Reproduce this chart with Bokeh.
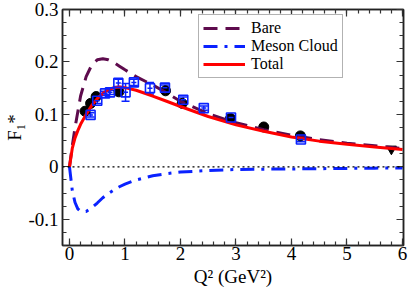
from bokeh.plotting import figure
from bokeh.models import (ColumnDataSource, FixedTicker, LinearAxis, Span,
                          Whisker, TeeHead, Legend, LegendItem, Range1d)
from bokeh.embed import file_html
from bokeh.resources import INLINE

# ---------------- data ----------------
q2_curve = [0, 0.05, 0.1, 0.15, 0.2, 0.3, 0.4, 0.5, 0.6, 0.7, 0.8, 0.9, 1.0, 1.2, 1.5,
            1.75, 2.0, 2.5, 3.0, 3.5, 4.0, 4.5, 5.0, 5.5, 6.0]
bare = [0, 0.04, 0.075, 0.105, 0.135, 0.172, 0.194, 0.204, 0.206, 0.204, 0.199, 0.192,
        0.185, 0.172, 0.156, 0.141, 0.125, 0.101, 0.084, 0.071, 0.060, 0.052, 0.045,
        0.040, 0.035]
meson = [0, -0.045, -0.068, -0.080, -0.085, -0.085, -0.078, -0.069, -0.059, -0.051,
         -0.044, -0.038, -0.033, -0.025, -0.017, -0.013, -0.010, -0.007, -0.005,
         -0.0045, -0.004, -0.0035, -0.003, -0.0025, -0.002]
total = [0, 0.035, 0.055, 0.069, 0.081, 0.100, 0.117, 0.130, 0.140, 0.147, 0.151, 0.152,
         0.151, 0.146, 0.135, 0.125, 0.115, 0.096, 0.080, 0.068, 0.057, 0.049, 0.043,
         0.038, 0.033]

circ_q2 = [0.28, 0.38, 0.48, 0.89, 1.73, 2.03, 2.90, 3.50, 4.16]
circ_f = [0.106, 0.121, 0.134, 0.143, 0.145, 0.121, 0.092, 0.076, 0.059]

tri_q2 = [5.80]
tri_f = [0.034]

sq_q2 = [0.38, 0.50, 0.64, 0.73, 0.88, 1.01, 1.16, 1.45, 1.72, 2.05, 2.42, 2.91, 4.17]
sq_f = [0.099, 0.126, 0.140, 0.142, 0.160, 0.142, 0.161, 0.150, 0.151, 0.128, 0.112,
        0.094, 0.052]
sq_err = [0.004, 0.005, 0.004, 0.004, 0.007, 0.017, 0.006, 0.011, 0.005, 0.005, 0.004,
          0.004, 0.004]

x_ticks = [0, 1, 2, 3, 4, 5, 6]
y_ticks = [-0.1, 0, 0.1, 0.2, 0.3]
y_labels = ["-0.1", "0", "0.1", "0.2", "0.3"]
legend_labels = ["Bare", "Meson Cloud", "Total"]
x_title = "Q\u00b2 (GeV\u00b2)"
y_title = "F\u2081*"

# ---------------- figure ----------------
FONT = "Liberation Serif"
p = figure(width=409, height=290, output_backend="svg", toolbar_location=None,
           x_range=Range1d(-0.126, 6.018), y_range=Range1d(-0.15, 0.3),
           min_border_left=62, min_border_right=6, min_border_top=9,
           min_border_bottom=45)
p.xgrid.visible = False
p.ygrid.visible = False
p.outline_line_color = "#222222"
p.outline_line_width = 1.5
p.background_fill_color = "white"
p.border_fill_color = "white"

x_minor = [i * 0.2 for i in range(-1, 31)]
y_minor = [-0.15 + i * 0.025 for i in range(19)]


def style_axis(ax, ticks, minor, show_labels):
    ax.ticker = FixedTicker(ticks=ticks, minor_ticks=minor)
    ax.axis_line_color = "#222222"
    ax.axis_line_width = 1.5
    ax.major_tick_in = 7
    ax.major_tick_out = 0
    ax.minor_tick_in = 4
    ax.minor_tick_out = 0
    ax.major_tick_line_color = "#333333"
    ax.minor_tick_line_color = "#333333"
    ax.major_tick_line_width = 1.2
    ax.minor_tick_line_width = 1.2
    if show_labels:
        ax.major_label_text_font = FONT
        ax.major_label_text_font_size = "19px"
        ax.major_label_text_color = "black"
        ax.axis_label_text_font = FONT
        ax.axis_label_text_font_size = "19px"
        ax.axis_label_text_font_style = "normal"
        ax.axis_label_text_color = "black"
    else:
        ax.major_label_overrides = {t: "" for t in ticks}
        ax.major_label_standoff = 0


xa = p.xaxis[0]
ya = p.yaxis[0]
style_axis(xa, x_ticks, x_minor, True)
style_axis(ya, y_ticks, y_minor, True)
xa.major_label_standoff = 1
ya.major_label_standoff = 4
ya.major_label_overrides = {t: s for t, s in zip(y_ticks, y_labels)}
xa.axis_label = x_title
xa.axis_label_standoff = 3
ya.axis_label = y_title
ya.axis_label_standoff = 0

top_ax = LinearAxis()
style_axis(top_ax, x_ticks, x_minor, False)
p.add_layout(top_ax, "above")
right_ax = LinearAxis()
style_axis(right_ax, y_ticks, y_minor, False)
p.add_layout(right_ax, "right")

# zero line
p.add_layout(Span(location=0, dimension="width", line_color="black",
                  line_dash="2 3", line_width=1.3))

# data points (circles beneath curves)
p.scatter(circ_q2, circ_f, marker="circle", size=10, fill_color="black",
          line_color="black")
p.scatter(tri_q2, tri_f, marker="inverted_triangle", size=10, fill_color="black",
          line_color="black")

# curves
curve_src = ColumnDataSource(dict(x=q2_curve, bare=bare, meson=meson, total=total))
r_bare = p.line("x", "bare", source=curve_src, line_color="#5e0b4d", line_width=3,
                line_dash="14 8")
r_meson = p.line("x", "meson", source=curve_src, line_color="#0a22ff", line_width=3,
                 line_dash="14 7 3 7")
r_total = p.line("x", "total", source=curve_src, line_color="#ff0000", line_width=3)

# blue squares with error bars
sq_src = ColumnDataSource(dict(x=sq_q2, y=sq_f,
                               lo=[f - e for f, e in zip(sq_f, sq_err)],
                               hi=[f + e for f, e in zip(sq_f, sq_err)]))
p.add_layout(Whisker(source=sq_src, base="x", lower="lo", upper="hi",
                     line_color="#0a22ff", line_width=1.5,
                     lower_head=TeeHead(size=8, line_color="#0a22ff", line_width=1.5),
                     upper_head=TeeHead(size=8, line_color="#0a22ff", line_width=1.5)))
p.scatter("x", "y", source=sq_src, marker="square", size=9, fill_color=None,
          line_color="#0a22ff", line_width=1.6)
p.scatter("x", "y", source=sq_src, marker="dash", size=5, line_color="#0a22ff",
          line_width=1.5)

# legend
legend = Legend(items=[LegendItem(label=legend_labels[0], renderers=[r_bare]),
                       LegendItem(label=legend_labels[1], renderers=[r_meson]),
                       LegendItem(label=legend_labels[2], renderers=[r_total])],
                location=(136, 167))
legend.label_text_font = FONT
legend.label_text_font_size = "16px"
legend.label_text_color = "black"
legend.label_height = 16
legend.glyph_height = 16
legend.glyph_width = 42
legend.label_standoff = 6
legend.spacing = 0
legend.padding = 4
legend.margin = 0
legend.border_line_color = "#666666"
legend.border_line_width = 1
legend.background_fill_alpha = 1
p.add_layout(legend, "center")

open("out.html", "w").write(file_html(p, INLINE))
